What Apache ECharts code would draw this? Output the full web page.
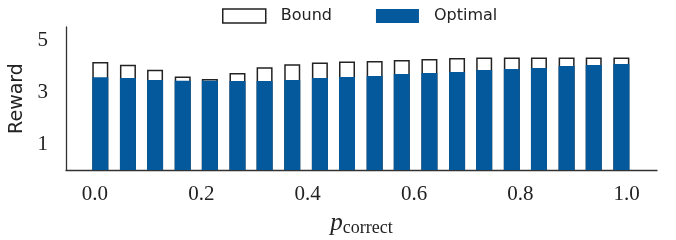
<!DOCTYPE html>
<html>
<head>
<meta charset="utf-8">
<script src="https://cdn.jsdelivr.net/npm/echarts@6/dist/echarts.min.js"></script>
<style>
  html, body { margin: 0; padding: 0; background: #fff; }
  #chart { width: 676px; height: 240px; }
</style>
</head>
<body>
<div id="chart"></div>
<script>
// p_correct positions of the bars
const pCorrect = [0.010, 0.062, 0.113, 0.165, 0.216, 0.268, 0.319, 0.371, 0.423, 0.474,
                  0.526, 0.577, 0.629, 0.681, 0.732, 0.784, 0.835, 0.887, 0.938, 0.990]
const bound = [4.15, 4.05, 3.86, 3.60, 3.50, 3.73, 3.95, 4.07, 4.13, 4.17,
               4.19, 4.23, 4.27, 4.31, 4.33, 4.33, 4.33, 4.33, 4.33, 4.33]
const optimal = [3.57, 3.54, 3.46, 3.43, 3.43, 3.42, 3.42, 3.46, 3.54, 3.58,
                 3.62, 3.69, 3.73, 3.77, 3.85, 3.88, 3.92, 4.00, 4.04, 4.08]
const xTicks = [0, 0.2, 0.4, 0.6, 0.8, 1.0]
const yTicks = [1, 3, 5]

const blue = '#03599c'
const ink = '#222'
const serif = '"Liberation Serif", "DejaVu Serif", serif'
const sans = '"DejaVu Sans", sans-serif'

const chart = echarts.init(document.getElementById('chart'))

chart.setOption({
  animation: false,
  grid: { left: 66, right: 19, top: 27, bottom: 70, outerBoundsMode: 'none', containLabel: false },
  legend: {
    left: 217,
    top: 3,
    itemWidth: 43,
    itemHeight: 14,
    itemGap: 44,
    icon: 'rect',
    textStyle: { fontFamily: sans, fontSize: 16, color: ink, padding: [0, 0, 0, 10] },
    data: [
      { name: 'Bound', itemStyle: { color: '#fff', borderColor: ink, borderWidth: 1.5 } },
      { name: 'Optimal', itemStyle: { color: blue, borderWidth: 0 } }
    ]
  },
  xAxis: {
    type: 'value',
    min: -0.0545,
    max: 1.057,
    name: '{p|p}{s|correct}',
    nameLocation: 'middle',
    nameGap: 39,
    nameTextStyle: {
      rich: {
        p: { fontFamily: serif, fontStyle: 'italic', fontSize: 25, color: ink },
        s: { fontFamily: serif, fontSize: 18, color: ink, padding: [10, 0, 0, 0] }
      }
    },
    axisLine: { onZero: false, lineStyle: { color: '#333', width: 1.3 } },
    axisTick: { show: false },
    splitLine: { show: false },
    axisLabel: {
      customValues: xTicks,
      formatter: v => v.toFixed(1),
      fontFamily: serif,
      fontSize: 21,
      color: ink,
      margin: 14
    }
  },
  yAxis: {
    type: 'value',
    min: 0,
    max: 5.5,
    name: 'Reward',
    nameLocation: 'middle',
    nameGap: 31,
    nameRotate: 90,
    nameTextStyle: { fontFamily: sans, fontSize: 19, color: ink },
    axisLine: { show: true, onZero: false, lineStyle: { color: '#333', width: 1.3 } },
    axisTick: { show: false },
    splitLine: { show: false },
    axisLabel: {
      customValues: yTicks,
      fontFamily: serif,
      fontSize: 21,
      color: ink,
      margin: 18
    }
  },
  series: [
    {
      name: 'Bound',
      type: 'bar',
      barWidth: 16,
      barGap: '-100%',
      data: pCorrect.map((x, i) => [x, bound[i]]),
      itemStyle: { color: '#fff', borderColor: ink, borderWidth: 1.5 }
    },
    {
      name: 'Optimal',
      type: 'bar',
      barWidth: 16,
      barGap: '-100%',
      data: pCorrect.map((x, i) => [x, optimal[i]]),
      itemStyle: { color: blue }
    }
  ]
})
</script>
</body>
</html>
